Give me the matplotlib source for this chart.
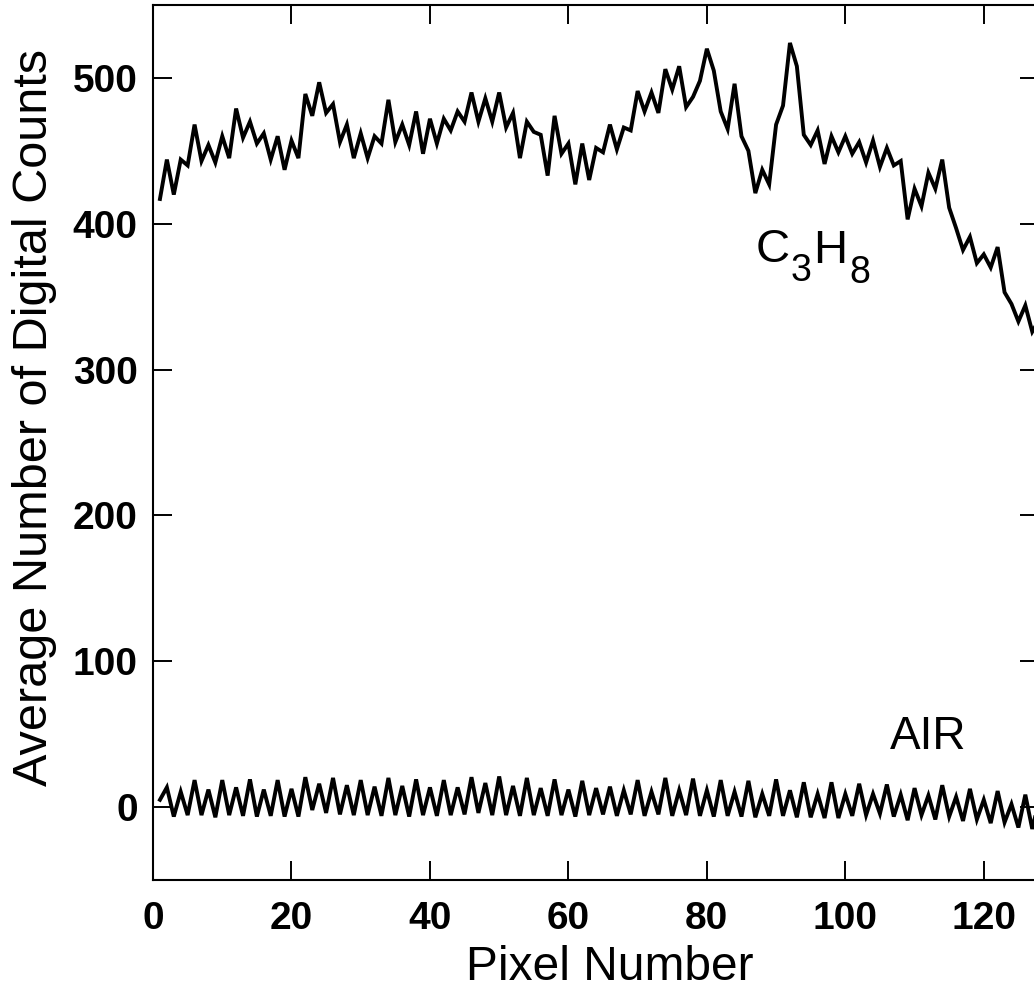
import numpy as np
import matplotlib; matplotlib.use("Agg")
import matplotlib.pyplot as plt

plt.rcParams.update({"font.family": ["Liberation Sans", "DejaVu Sans"]})

# ---- data ----
pixels = np.arange(1, 129)

c3h8 = [417, 444, 420, 444, 440, 468, 443, 454, 442, 460,
        445, 479, 459, 470, 455, 462, 444, 460, 437, 457,
        445, 489, 474, 497, 476, 482, 456, 468, 445, 462,
        445, 460, 455, 485, 456, 468, 454, 477, 448, 472,
        455, 472, 464, 477, 470, 490, 470, 486, 470, 490,
        466, 476, 445, 470, 463, 461, 433, 474, 448, 455,
        427, 455, 430, 452, 449, 468, 451, 466, 464, 491,
        477, 490, 476, 506, 492, 508, 480, 487, 498, 520,
        505, 477, 465, 496, 460, 450, 421, 437, 427, 468,
        481, 524, 508, 461, 454, 464, 441, 460, 449, 460,
        448, 456, 442, 457, 439, 452, 440, 443, 403, 424,
        412, 435, 424, 444, 411, 397, 382, 391, 373, 379,
        370, 384, 353, 345, 333, 344, 326, 334]

air = [5, 13.5, -6.5, 10.5, -5.5, 18.5, -5.5, 12, -7, 18.5,
       -5.5, 13.5, -6, 19, -6.5, 12, -6, 18.5, -6.5, 12.5,
       -6.5, 20.5, -2, 16, -4, 20, -5, 15, -5.5, 18.5,
       -5.5, 14, -6, 20, -5.5, 14.5, -6.5, 19, -5.5, 13.5,
       -6, 18.5, -5.5, 13.5, -5, 20.5, -4, 16.5, -5.5, 21,
       -5.5, 14.5, -6, 20, -5.5, 13, -6, 19, -5.5, 12,
       -6.5, 18, -5.5, 13, -5, 14, -6, 11.5, -5, 18.5,
       -6, 10.5, -5, 20, -6, 11.5, -5.5, 19.5, -6, 11.5,
       -6.5, 18.5, -6, 10.5, -6.5, 18, -7, 9, -6, 19,
       -6, 11.5, -7, 17, -7, 9, -7.5, 17, -7.5, 9,
       -6, 16, -5.5, 9, -4.5, 15.5, -6.5, 8.5, -9, 13,
       -5.5, 8, -8.5, 15, -6.5, 7, -9.5, 12.5, -8.5, 5,
       -11, 11, -10.5, 2, -14, 8.5, -15, 5]

fig = plt.figure(figsize=(10.34, 10.0), dpi=100)
ax = fig.add_axes([0.148, 0.12, 0.857, 0.875])

ax.plot(pixels, c3h8, color="black", lw=2.8, solid_joinstyle="miter")
ax.plot(pixels, air, color="black", lw=2.8, solid_joinstyle="miter")

ax.set_xlim(0, 128)
ax.set_ylim(-50, 550)
ax.set_xticks([0, 20, 40, 60, 80, 100, 120])
ax.set_yticks([0, 100, 200, 300, 400, 500])
ax.tick_params(direction="in", length=13.5, width=1.4, top=True, right=True,
               labelsize=28)
ax.tick_params(axis="x", pad=15)
ax.tick_params(axis="y", pad=11)
for lab in ax.get_xticklabels() + ax.get_yticklabels():
    lab.set_fontweight("bold")
for s in ax.spines.values():
    s.set_linewidth(1.5)

ax.set_xlabel("Pixel Number", fontsize=34.5)
ax.set_ylabel("Average Number of Digital Counts", fontsize=35)
ax.yaxis.set_label_coords(-0.108, 0.529)
ax.xaxis.set_label_coords(0.515, -0.074)

# C3H8 label, built piece by piece so the subscripts sit low like the original
tC = ax.text(87, 374, "C", fontsize=34, va="baseline")
t3 = ax.annotate("3", xy=(1, 0), xycoords=tC, xytext=(0.5, -7), textcoords="offset points",
                 fontsize=27, va="baseline")
tH = ax.annotate("H", xy=(1, 0), xycoords=t3, xytext=(1.5, 19), textcoords="offset points",
                 fontsize=34, va="baseline")
ax.annotate("8", xy=(1, 0), xycoords=tH, xytext=(1.5, -7), textcoords="offset points",
            fontsize=27, va="baseline")
ax.text(112, 48, "AIR", fontsize=33, ha="center", va="center")

fig.savefig("out.png", dpi=100)
